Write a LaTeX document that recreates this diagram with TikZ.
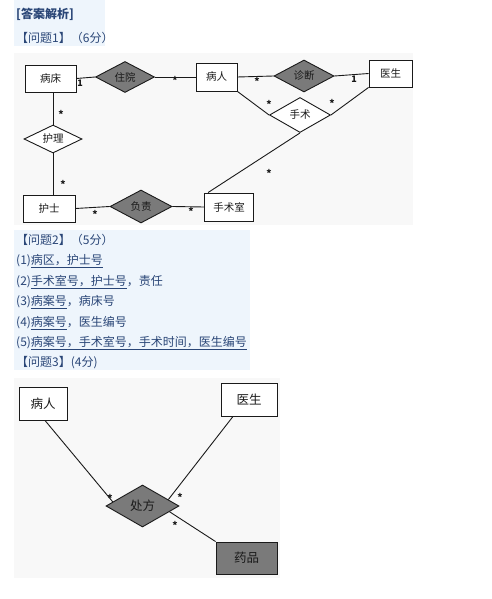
\documentclass[tikz,border=0pt]{standalone}
\usepackage{fontspec}
\setmainfont{Noto Sans CJK SC}
\usetikzlibrary{shapes.geometric}
\definecolor{navy}{HTML}{2A4677}
\definecolor{qbg}{HTML}{EEF5FC}
\definecolor{dbg}{HTML}{F8F8F8}
\definecolor{darkfill}{HTML}{7A7A7A}
\definecolor{ink}{HTML}{1A1A1A}
\begin{document}
\begin{tikzpicture}[x=1pt,y=-1pt,
  ent/.style={rectangle, draw=ink, line width=0.9pt, fill=white, inner sep=0pt, text=ink, font=\fontsize{10.5}{12}\selectfont},
  ent3/.style={ent, font=\fontsize{12.5}{14}\selectfont},
  rel/.style={diamond, aspect=2, draw=ink, line width=0.9pt, fill=white, inner sep=0pt, text=ink, font=\fontsize{10.5}{12}\selectfont},
  rel3/.style={rel, font=\fontsize{12.5}{14}\selectfont},
  darkrel/.style={fill=darkfill},
  conn/.style={draw=ink, line width=0.9pt},
  lab/.style={inner sep=0pt, text=ink, font=\fontsize{10}{10}\selectfont\bfseries},
  qtext/.style={anchor=west, inner sep=0pt, text=navy, font=\fontsize{12}{14}\selectfont},
]
\useasboundingbox (0,0) rectangle (492,599);
\fill[white] (0,0) rectangle (492,599);
% backgrounds
\fill[qbg] (14,0) rectangle (105,46);
\fill[dbg] (14,53) rectangle (413,225);
\fill[qbg] (14,230) rectangle (250,370);
\fill[dbg] (14,378) rectangle (280,578);
% header
\node[qtext, font=\fontsize{12}{14}\selectfont\bfseries] (h0) at (16,14) {[答案解析]};
\node[qtext] (h1) at (16,38) {【问题1】（6分）};
% diagram 1
\node[ent, minimum width=51pt, minimum height=27pt] (bc) at (50.5,78.5) {病床};
\node[rel, darkrel, minimum width=59pt, minimum height=31pt] (zy) at (125,77) {住院};
\node[ent, minimum width=41pt, minimum height=28pt] (br) at (216.5,77) {病人};
\node[rel, darkrel, minimum width=60pt, minimum height=32pt] (zd) at (304,76) {诊断};
\node[ent, minimum width=43pt, minimum height=27pt] (ys) at (390.5,73.5) {医生};
\node[rel, minimum width=61pt, minimum height=35pt] (ss) at (300,115) {手术};
\node[rel, minimum width=58pt, minimum height=28pt] (hl) at (53,139) {护理};
\node[ent, minimum width=52pt, minimum height=27pt] (hs) at (49,208.5) {护士};
\node[rel, darkrel, minimum width=62pt, minimum height=33pt] (fz) at (141,206.5) {负责};
\node[ent, minimum width=49pt, minimum height=28pt] (sss) at (229,207) {手术室};
\draw[conn] (bc.east) -- (zy.west);
\draw[conn] (zy.east) -- (br.west);
\draw[conn] (br.east) -- (zd.west);
\draw[conn] (zd.east) -- (ys.west);
\draw[conn] (br.south east) -- (ss.west);
\draw[conn] (ys.south west) -- (ss.east);
\draw[conn] (ss.south) -- ([xshift=4pt]sss.north west);
\draw[conn] (hl.north) -- (hl.north |- bc.south);
\draw[conn] (hl.south) -- (hl.south |- hs.north);
\draw[conn] (hs.east) -- (fz.west);
\draw[conn] (fz.east) -- (sss.west);
\node[lab, font=\fontsize{9}{9}\selectfont\bfseries] (l1) at (80,83) {1};
\node[lab] (l2) at (175,80) {*};
\node[lab] (l3) at (257,81) {*};
\node[lab, font=\fontsize{9}{9}\selectfont\bfseries] (l4) at (354,79) {1};
\node[lab] (l5) at (269,104) {*};
\node[lab] (l6) at (332,103) {*};
\node[lab] (l7) at (269,173) {*};
\node[lab] (l8) at (61,114) {*};
\node[lab] (l9) at (63,184) {*};
\node[lab] (l10) at (95,214) {*};
\node[lab] (l11) at (191,211) {*};
% question 2
\node[qtext] (q2) at (16,240) {【问题2】（5分）};
\node[qtext] (a1) at (16,261) {(1)\underline{病区，护士号}};
\node[qtext] (a2) at (16,282) {(2)\underline{手术室号，护士号}，责任};
\node[qtext] (a3) at (16,302) {(3)\underline{病案号}，病床号};
\node[qtext] (a4) at (16,323) {(4)\underline{病案号}，医生编号};
\node[qtext] (a5) at (16,343) {(5)\underline{病案号，手术室号，手术时间，医生编号}};
\node[qtext] (q3) at (16,363) {【问题3】(4分)};
% diagram 3
\node[ent3, minimum width=48pt, minimum height=33pt] (p3) at (43,403.5) {病人};
\node[ent3, minimum width=56pt, minimum height=33pt] (d3) at (249,399.5) {医生};
\node[rel3, darkrel, minimum width=73pt, minimum height=42pt] (cf) at (142.5,506) {处方};
\node[ent3, fill=darkfill, minimum width=61pt, minimum height=32pt] (yp) at (246.5,558) {药品};
\draw[conn] ([xshift=2pt]p3.south) -- (cf.172);
\draw[conn] ([xshift=-16pt]d3.south) -- (cf.14);
\draw[conn] (cf.-12) -- (yp.north west);
\node[lab] (m1) at (110,498) {*};
\node[lab] (m2) at (180,497) {*};
\node[lab] (m3) at (175,525) {*};
\end{tikzpicture}
\end{document}
